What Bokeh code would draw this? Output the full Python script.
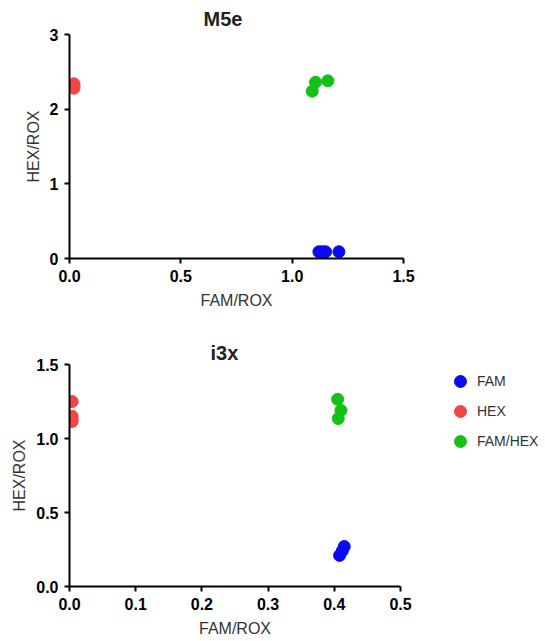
from bokeh.plotting import figure
from bokeh.layouts import column
from bokeh.models import Range1d, FixedTicker, NumeralTickFormatter, Legend, LegendItem
from bokeh.embed import file_html
from bokeh.resources import INLINE

# M5e
m5e_fam_x = [1.12, 1.135, 1.15, 1.21]
m5e_fam_y = [0.09, 0.09, 0.09, 0.09]
m5e_hex_x = [0.02, 0.02, 0.02]
m5e_hex_y = [2.34, 2.31, 2.28]
m5e_famhex_x = [1.09, 1.105, 1.16]
m5e_famhex_y = [2.24, 2.36, 2.38]

# i3x
i3x_fam_x = [0.408, 0.412, 0.415]
i3x_fam_y = [0.21, 0.24, 0.27]
i3x_hex_x = [0.004, 0.004, 0.004, 0.004]
i3x_hex_y = [1.25, 1.15, 1.13, 1.115]
i3x_famhex_x = [0.405, 0.41, 0.406]
i3x_famhex_y = [1.265, 1.19, 1.135]

m5e_xticks = [0, 0.5, 1.0, 1.5]
m5e_yticks = [0, 1, 2, 3]
i3x_xticks = [0, 0.1, 0.2, 0.3, 0.4, 0.5]
i3x_yticks = [0, 0.5, 1.0, 1.5]

FONT = "Liberation Sans"
BLUE = "#0a0af5"
RED = "#f24646"
GREEN = "#14c114"


def style(p, xticks, yticks, xfmt, yfmt):
    p.grid.visible = False
    p.outline_line_color = None
    p.title.text_font = FONT
    p.title.text_font_size = "20px"
    p.title.text_font_style = "bold"
    p.title.text_color = "#222222"
    p.title.align = "left"
    p.xaxis.ticker = FixedTicker(ticks=xticks)
    p.yaxis.ticker = FixedTicker(ticks=yticks)
    p.xaxis.formatter = NumeralTickFormatter(format=xfmt)
    p.yaxis.formatter = NumeralTickFormatter(format=yfmt)
    for ax in (p.xaxis, p.yaxis):
        ax.axis_line_width = 2
        ax.axis_line_color = "black"
        ax.major_tick_line_width = 2
        ax.major_tick_line_color = "black"
        ax.major_tick_out = 5
        ax.major_tick_in = 0
        ax.minor_tick_line_color = None
        ax.major_label_text_font = FONT
        ax.major_label_text_font_size = "16px"
        ax.major_label_text_font_style = "bold"
        ax.major_label_text_color = "black"
        ax.major_label_standoff = 6
        ax.axis_label_text_font = FONT
        ax.axis_label_text_font_size = "16px"
        ax.axis_label_text_font_style = "normal"
        ax.axis_label_text_color = "#333333"
    p.xaxis.axis_label_standoff = 7
    p.yaxis.axis_label_standoff = 5
    p.xaxis.axis_label = "FAM/ROX"
    p.yaxis.axis_label = "HEX/ROX"


p1 = figure(title="M5e", frame_width=334, frame_height=224, output_backend="svg", toolbar_location=None,
            x_range=Range1d(0, 1.5), y_range=Range1d(0, 3),
            min_border_left=69, min_border_right=34, min_border_top=26, min_border_bottom=50)
style(p1, m5e_xticks, m5e_yticks, "0.0", "0")
p1.title.standoff = 10
p1.title.offset = 134
p1.scatter(m5e_fam_x, m5e_fam_y, size=12, color=BLUE)
p1.scatter(m5e_hex_x, m5e_hex_y, size=12, color=RED)
p1.scatter(m5e_famhex_x, m5e_famhex_y, size=12, color=GREEN)

p2 = figure(title="i3x", frame_width=331, frame_height=222, output_backend="svg", toolbar_location=None,
            x_range=Range1d(0, 0.5), y_range=Range1d(0, 1.5),
            min_border_left=58, min_border_right=140, min_border_top=53, min_border_bottom=41)
style(p2, i3x_xticks, i3x_yticks, "0.0", "0.0")
p2.title.standoff = 1
p2.title.offset = 141
r_fam = p2.scatter(i3x_fam_x, i3x_fam_y, size=12, color=BLUE)
r_hex = p2.scatter(i3x_hex_x, i3x_hex_y, size=12, color=RED)
r_famhex = p2.scatter(i3x_famhex_x, i3x_famhex_y, size=12, color=GREEN)

legend = Legend(items=[LegendItem(label="FAM", renderers=[r_fam]),
                       LegendItem(label="HEX", renderers=[r_hex]),
                       LegendItem(label="FAM/HEX", renderers=[r_famhex])],
                location=(45, 130))
legend.border_line_color = None
legend.background_fill_alpha = 0
legend.label_text_font = FONT
legend.label_text_font_size = "14px"
legend.label_text_color = "#333333"
legend.glyph_width = 30
legend.glyph_height = 30
legend.spacing = 0
legend.label_standoff = 2
legend.margin = 0
legend.padding = 0
p2.add_layout(legend, "right")

layout = column(p1, p2, spacing=0)
open("out.html", "w").write(file_html(layout, INLINE))
